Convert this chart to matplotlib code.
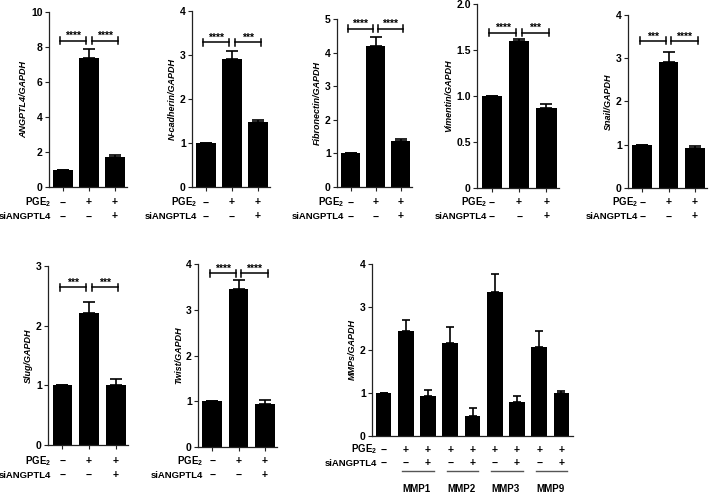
import numpy as np
import matplotlib.pyplot as plt
from matplotlib import transforms

plt.rcParams['font.family'] = ['Liberation Sans', 'DejaVu Sans']
plt.rcParams['font.weight'] = 'bold'
plt.rcParams['mathtext.fontset'] = 'custom'
plt.rcParams['mathtext.rm'] = 'Liberation Sans:bold'
plt.rcParams['mathtext.default'] = 'rm'

# data
ylabels = ['ANGPTL4/GAPDH', 'N-cadherin/GAPDH', 'Fibronectin/GAPDH', 'Vimentin/GAPDH',
           'Snail/GAPDH', 'Slug/GAPDH', 'Twist/GAPDH']
means = [[1.0, 7.4, 1.7],
         [1.0, 2.91, 1.48],
         [1.0, 4.2, 1.36],
         [1.0, 1.6, 0.87],
         [1.0, 2.92, 0.93],
         [1.0, 2.21, 1.0],
         [1.0, 3.46, 0.95]]
errs = [[0, 0.5, 0.13],
        [0, 0.18, 0.05],
        [0, 0.27, 0.08],
        [0, 0.015, 0.04],
        [0, 0.23, 0.03],
        [0, 0.18, 0.10],
        [0, 0.20, 0.07]]
stars = [('****', '****'), ('****', '***'), ('****', '****'), ('****', '***'),
         ('***', '****'), ('***', '***'), ('****', '****')]
bracket_y = [8.37, 3.29, 4.71, 1.69, 3.40, 2.64, 3.80]
ymax = [10, 4, 5, 2.0, 4, 3, 4]
yticks = [[0, 2, 4, 6, 8, 10], [0, 1, 2, 3, 4], [0, 1, 2, 3, 4, 5],
          [0, 0.5, 1.0, 1.5, 2.0], [0, 1, 2, 3, 4], [0, 1, 2, 3], [0, 1, 2, 3, 4]]
yticklabels = [None, None, None, ['0', '0.5', '1.0', '1.5', '2.0'], None, None, None]
pge_signs = ['−', '+', '+']
si_signs = ['−', '−', '+']

mmp_means = [1.0, 2.45, 0.93, 2.17, 0.47, 3.36, 0.80, 2.08, 0.99]
mmp_errs = [0, 0.25, 0.14, 0.36, 0.18, 0.40, 0.12, 0.37, 0.05]
mmp_pge = ['−', '+', '+', '+', '+', '+', '+', '+', '+']
mmp_si = ['−', '−', '+', '−', '+', '−', '+', '−', '+']
mmp_names = ['MMP1', 'MMP2', 'MMP3', 'MMP9']

W, H = 709, 493
# panel boxes in pixels: x left, x right, y top, y bottom, label right edge, row y's
boxes = [(49, 127, 12, 187, 51, 202.5, 216.5),
         (192, 270, 11, 187, 197, 202.5, 216.5),
         (337, 412, 19, 187, 344, 202.5, 216.5),
         (477, 559, 4, 188, 487, 202.5, 216.5),
         (628, 707, 15, 188, 638, 202.5, 216.5),
         (48, 128, 266, 445, 51, 461, 475),
         (198, 277, 264, 447, 203, 461, 475)]

fig = plt.figure(figsize=(7.09, 4.93), dpi=100)


def make_ax(x0, x1, yt, yb):
    ax = fig.add_axes([x0 / W, 1 - yb / H, (x1 - x0) / W, (yb - yt) / H])
    for s in ['top', 'right']:
        ax.spines[s].set_visible(False)
    for s in ['left', 'bottom']:
        ax.spines[s].set_linewidth(0.9)
        ax.spines[s].set_color('#222222')
    ax.tick_params(axis='y', length=3, width=0.8, labelsize=7.5, pad=1.5, color='#222222')
    return ax


def sign_rows(ax, xs, row1, row2, lab_x, y1, y2):
    tr = transforms.blended_transform_factory(ax.transData, fig.transFigure)
    for x, a, b in zip(xs, row1, row2):
        ax.text(x, 1 - y1 / H, a, transform=tr, ha='center', va='center', fontsize=7.5)
        ax.text(x, 1 - y2 / H, b, transform=tr, ha='center', va='center', fontsize=7.5)
    fig.text(lab_x / W, 1 - y1 / H, 'PGE$_2$', ha='right', va='center', fontsize=7)
    fig.text(lab_x / W, 1 - y2 / H, 'siANGPTL4', ha='right', va='center', fontsize=6.8)


for i in range(7):
    x0, x1, yt, yb, lab_x, y1, y2 = boxes[i]
    ax = make_ax(x0, x1, yt, yb)
    xs = np.arange(3)
    ax.bar(xs, means[i], width=0.74, color='black', zorder=2)
    ax.errorbar(xs, means[i], yerr=[np.zeros(3), errs[i]], fmt='none', ecolor='black',
                elinewidth=1.2, capsize=4.3, capthick=1.2, zorder=1)
    ax.set_xlim(-0.54, 2.46)
    ax.set_ylim(0, ymax[i])
    ax.set_yticks(yticks[i])
    if yticklabels[i] is not None:
        ax.set_yticklabels(yticklabels[i])
    ax.set_xticks(xs)
    ax.set_xticklabels([])
    ax.tick_params(axis='x', length=3, width=0.8, color='#222222')
    ax.set_ylabel(ylabels[i], fontsize=6.5, style='italic', fontweight='bold', labelpad=2)

    # significance brackets
    px = ymax[i] / (yb - yt)
    yb_ = bracket_y[i]
    for (a, b), s in zip([(-0.1, 0.9), (1.1, 2.1)], stars[i]):
        ax.plot([a, b], [yb_, yb_], color='black', lw=1.1, clip_on=False)
        for e in (a, b):
            ax.plot([e, e], [yb_ - 3.5 * px, yb_ + 3.5 * px], color='black', lw=1.1, clip_on=False)
        ax.text((a + b) / 2, yb_ + 1.5 * px, s, ha='center', va='baseline', fontsize=7.5)

    sign_rows(ax, xs, pge_signs, si_signs, lab_x, y1, y2)

# MMP panel
ax = make_ax(372, 573, 264, 436)
xs = np.arange(9)
ax.bar(xs, mmp_means, width=0.7, color='black', zorder=2)
ax.errorbar(xs, mmp_means, yerr=[np.zeros(9), mmp_errs], fmt='none', ecolor='black',
            elinewidth=1.2, capsize=2.6, capthick=1.2, zorder=1)
ax.set_xlim(-0.52, 8.52)
ax.set_ylim(0, 4)
ax.set_yticks([0, 1, 2, 3, 4])
ax.set_xticks([])
ax.set_ylabel('MMPs/GAPDH', fontsize=6.5, style='italic', fontweight='bold', labelpad=2)
sign_rows(ax, xs, mmp_pge, mmp_si, 377, 449.5, 463)
tr = transforms.blended_transform_factory(ax.transData, fig.transFigure)
for k, name in enumerate(mmp_names):
    a, b = 2 * k + 1, 2 * k + 2
    ax.plot([a - 0.15, b + 0.25], [1 - 471 / H] * 2, transform=tr, color='#555555',
            lw=1, clip_on=False)
    ax.text((a + b) / 2, 1 - 489 / H, name, transform=tr, ha='center', va='center', fontsize=7)

fig.savefig('out.png', dpi=100)
